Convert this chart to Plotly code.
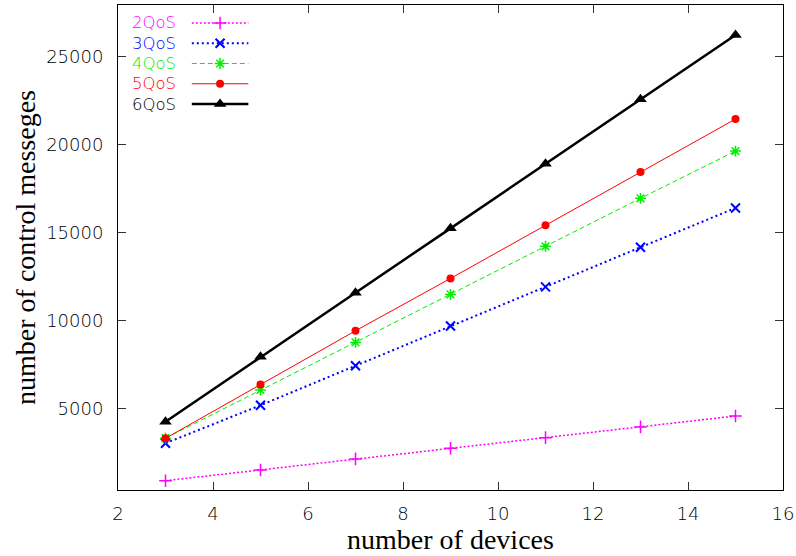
import plotly.graph_objects as go

# ---- data ----
devices = [3, 5, 7, 9, 11, 13, 15]
qos2 = [880, 1490, 2120, 2730, 3330, 3940, 4560]
qos3 = [3010, 5170, 7420, 9680, 11910, 14160, 16400]
qos4 = [3300, 6040, 8750, 11480, 14220, 16950, 19640]
qos5 = [3290, 6360, 9410, 12390, 15420, 18440, 21460]
qos6 = [4230, 7930, 11580, 15240, 18920, 22590, 26240]
series_names = ["2QoS", "3QoS", "4QoS", "5QoS", "6QoS"]
series_values = [qos2, qos3, qos4, qos5, qos6]
x_ticks = [2, 4, 6, 8, 10, 12, 14, 16]
y_ticks = [5000, 10000, 15000, 20000, 25000]

# ---- styles ----
styles = [
    dict(color="#ff00ff", width=1.5, dash="2px,2px", symbol="cross-thin", msize=9, mlw=1.5),
    dict(color="#0000ff", width=2, dash="2px,3px", symbol="x-thin", msize=9, mlw=2),
    dict(color="#00ee00", width=1, dash="5px,3px", symbol="asterisk", msize=9, mlw=1.5),
    dict(color="#ff0000", width=1, dash="solid", symbol="circle", msize=8, mlw=0),
    dict(color="#000000", width=2.5, dash="solid", symbol="triangle-up", msize=11, mlw=0),
]

SANS = "DejaVu Sans"
SERIF = "Liberation Serif, Times New Roman, serif"

fig = go.Figure()

for name, vals, st in zip(series_names, series_values, styles):
    fig.add_trace(go.Scatter(
        x=devices, y=vals, name=name, mode="lines+markers",
        line=dict(color=st["color"], width=st["width"], dash=st["dash"]),
        marker=dict(symbol=st["symbol"], size=st["msize"], color=st["color"],
                    line=dict(color=st["color"], width=st["mlw"])),
        showlegend=False,
    ))

# ---- hand-made legend (text left of key, as in the reference) ----
LEG_TEXT_RIGHT = 0.090
LEG_KEY_X0, LEG_KEY_X1 = 0.111, 0.196
LEG_ROW_TOP, LEG_ROW_STEP = 0.963, 0.0418
for i, (name, st) in enumerate(zip(series_names, styles)):
    yy = LEG_ROW_TOP - i * LEG_ROW_STEP
    fig.add_trace(go.Scatter(
        x=[LEG_KEY_X0, LEG_KEY_X1], y=[yy, yy], mode="lines",
        line=dict(color=st["color"], width=st["width"], dash=st["dash"]),
        xaxis="x2", yaxis="y2", showlegend=False, hoverinfo="skip",
    ))
    fig.add_trace(go.Scatter(
        x=[(LEG_KEY_X0 + LEG_KEY_X1) / 2], y=[yy], mode="markers",
        marker=dict(symbol=st["symbol"], size=st["msize"], color=st["color"],
                    line=dict(color=st["color"], width=st["mlw"])),
        xaxis="x2", yaxis="y2", showlegend=False, hoverinfo="skip",
    ))
    fig.add_annotation(
        x=LEG_TEXT_RIGHT, y=yy, xref="x2", yref="y2", text=name,
        showarrow=False, xanchor="right", yanchor="middle", xshift=0,
        font=dict(family=SANS, size=16.5, color=st["color"], weight=300),
    )

axis_common = dict(
    showline=True, linecolor="#000000", linewidth=1, mirror="ticks",
    ticks="inside", ticklen=8, tickwidth=1, tickcolor="#333333",
    showgrid=False, zeroline=False,
    tickfont=dict(family=SANS, size=18, color="#000000", weight=300),
)

fig.update_layout(
    width=796, height=556,
    margin=dict(l=118, r=13, t=5, b=66, autoexpand=False),
    paper_bgcolor="white", plot_bgcolor="white",
    xaxis=dict(
        range=[2, 16], tickvals=x_ticks, ticktext=[str(v) for v in x_ticks],
        ticklabelstandoff=7,
        title=dict(text="number of devices", font=dict(family=SERIF, size=28, color="#000000"),
                   standoff=4),
        **axis_common,
    ),
    yaxis=dict(
        range=[350, 27950], tickvals=y_ticks, ticktext=[str(v) for v in y_ticks],
        ticklabelstandoff=10,
        title=dict(text="number of control messeges", font=dict(family=SERIF, size=28, color="#000000"),
                   standoff=2),
        **axis_common,
    ),
    xaxis2=dict(overlaying="x", range=[0, 1], visible=False, fixedrange=True),
    yaxis2=dict(overlaying="y", range=[0, 1], visible=False, fixedrange=True),
    showlegend=False,
)

fig.write_html("out.html")
